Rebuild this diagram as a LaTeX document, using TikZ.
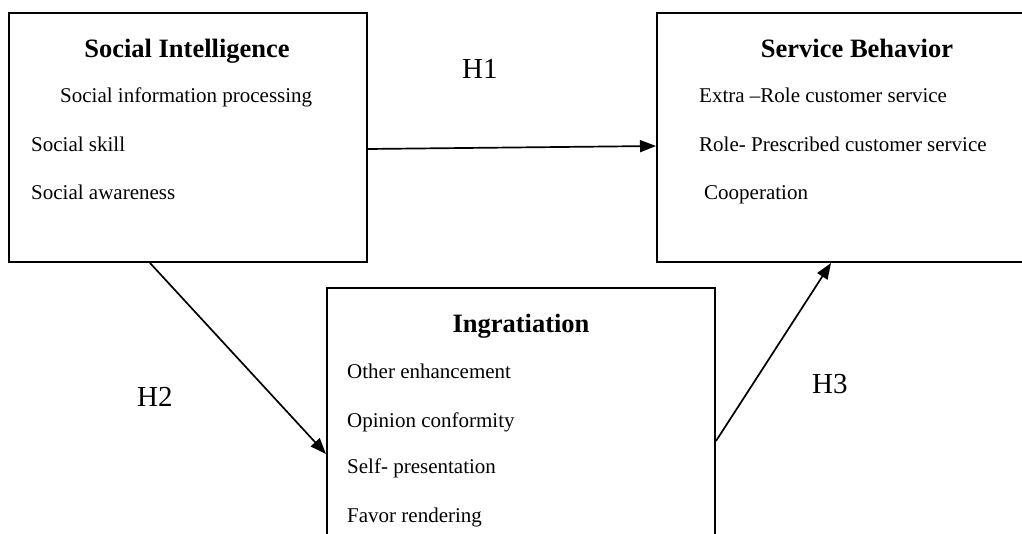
\documentclass[tikz,border=0pt]{standalone}
\usepackage{fontspec}
\setmainfont{Liberation Serif}
\usetikzlibrary{arrows.meta}
\tikzset{
  boxnode/.style={draw=black, line width=2pt, rectangle, inner sep=0pt},
  titletext/.style={anchor=base, inner sep=0pt, font=\fontsize{26.5}{30}\selectfont\bfseries},
  itemtext/.style={anchor=base west, inner sep=0pt, font=\fontsize{21}{25}\selectfont},
  hlabel/.style={anchor=base west, inner sep=0pt, font=\fontsize{29}{33}\selectfont},
  link/.style={line width=1.7pt, -{Triangle[length=16pt,width=12pt]}}
}
\begin{document}
\begin{tikzpicture}[x=1pt,y=-1pt]
\useasboundingbox (0,0) rectangle (1022,534);
\clip (0,0) rectangle (1022,534);
% boxes
\node[boxnode, minimum width=358pt, minimum height=249pt] (si) at (188,137.5) {};
\node[boxnode, minimum width=373pt, minimum height=249pt] (sb) at (843.5,137.5) {};
\node[boxnode, minimum width=388pt, minimum height=262pt] (ib) at (521,419) {};
% Social Intelligence
\node[titletext] (siT) at (187,58) {Social Intelligence};
\node[itemtext] (si1) at (60,103) {Social information processing};
\node[itemtext] (si2) at (31,152) {Social skill};
\node[itemtext] (si3) at (31,200) {Social awareness};
% Service Behavior
\node[titletext] (sbT) at (857,58) {Service Behavior};
\node[itemtext] (sb1) at (699,103) {Extra –Role customer service};
\node[itemtext] (sb2) at (699,152) {Role- Prescribed customer service};
\node[itemtext] (sb3) at (704,200) {Cooperation};
% Ingratiation
\node[titletext] (ibT) at (521,333) {Ingratiation};
\node[itemtext] (ib1) at (347,378) {Other enhancement};
\node[itemtext] (ib2) at (347,427) {Opinion conformity};
\node[itemtext] (ib3) at (347,473) {Self- presentation};
\node[itemtext] (ib4) at (347,522) {Favor rendering};
% hypothesis labels
\node[hlabel] (h1) at (462,79) {H1};
\node[hlabel] (h2) at (137,406) {H2};
\node[hlabel] (h3) at (812,393) {H3};
% connectors
\draw[link] ([yshift=-11.5pt]si.east) -- ([yshift=-8.5pt]sb.west);
\draw[link] ([xshift=-38pt]si.south) -- ([yshift=-35pt]ib.west);
\draw[link] ([yshift=-22pt]ib.east) -- ([xshift=-12.5pt]sb.south);
\end{tikzpicture}
\end{document}
